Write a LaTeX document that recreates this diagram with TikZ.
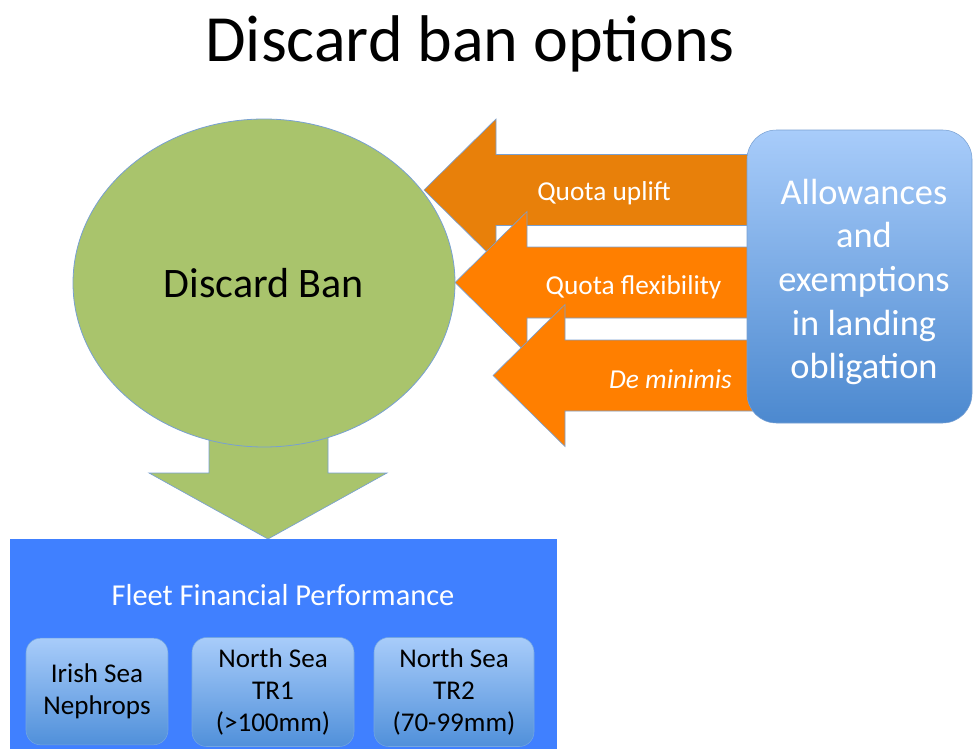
\documentclass[tikz,border=0pt]{standalone}
\usepackage{fontspec}
\setmainfont{Carlito}
\usepackage{tikz}
\usetikzlibrary{shapes.geometric}
\definecolor{bangreen}{RGB}{169,196,108}
\definecolor{edgeblue}{RGB}{120,160,210}
\definecolor{quotadark}{RGB}{232,128,10}
\definecolor{quotaorange}{RGB}{255,127,0}
\definecolor{fleetblue}{RGB}{64,128,255}
\definecolor{boxtop}{RGB}{168,204,250}
\definecolor{boxbottom}{RGB}{80,144,218}
\tikzset{
  larrow/.style = {draw=edgeblue, line width=0.5pt, line join=miter},
  qlabel/.style = {text=white, font=\fontsize{20.5}{24}\selectfont},
  fleetbox/.style = {draw=boxbottom!80, line width=0.4pt, rounded corners=11pt, top color=boxtop, bottom color=boxbottom, align=center, font=\fontsize{20.3}{24}\selectfont, inner sep=0pt},
}
\begin{document}
\begin{tikzpicture}[x=0.75pt, y=-0.75pt]
  \useasboundingbox (0,0) rectangle (974,749);
  \node[anchor=base] (title) at (470,62) {\fontsize{49.5}{56}\selectfont Discard ban options};
  % quota arrows, top one first
  \draw[larrow, fill=quotadark] (424,190) -- ++(72,-71) -- ++(0,35.5) -- ++(270,0) -- ++(0,71) -- ++(-270,0) -- ++(0,35.5) -- cycle;
  \draw[larrow, fill=quotaorange] (455,282.5) -- ++(72,-71) -- ++(0,35.5) -- ++(240,0) -- ++(0,71) -- ++(-240,0) -- ++(0,35.5) -- cycle;
  \draw[larrow, fill=quotaorange] (493,375.5) -- ++(72,-71) -- ++(0,35.5) -- ++(200,0) -- ++(0,71) -- ++(-200,0) -- ++(0,35.5) -- cycle;
  \node[qlabel] (uplift) at (604,193) {Quota uplift};
  \node[qlabel] (flex) at (633.5,287) {Quota flexibility};
  \node[qlabel] (demin) at (670.5,379) {\itshape De minimis};
  \node[draw=edgeblue, line width=0.4pt, rounded corners=22pt, top color=boxtop, bottom color=boxbottom!95!black,
        minimum width=168.75pt, minimum height=219.75pt] (allow) at (859.5,276.5) {};
  \node[align=center, text=white, font=\fontsize{27.3}{32.7}\selectfont] (allowtext) at (864,282)
        {Allowances\\and\\exemptions\\in landing\\obligation};
  % green arrow down to the fleet
  \draw[larrow, fill=bangreen] (209,420) -- (209,473) -- (149,473) -- (268,539) -- (387,473) -- (328,473) -- (328,420) -- cycle;
  \node[ellipse, draw=edgeblue, line width=0.6pt, fill=bangreen, minimum width=286.5pt, minimum height=246pt,
        font=\fontsize{31.5}{36}\selectfont] (ban) at (264,283) {Discard Ban};
  \fill[fleetblue] (10,539) rectangle (557,749);
  \node[text=white, font=\fontsize{22.8}{26}\selectfont] (fleet) at (283,595) {Fleet Financial Performance};
  \node[fleetbox, minimum width=106.5pt, minimum height=80pt] (irish) at (97,691.5) {Irish Sea\\Nephrops};
  \node[fleetbox, minimum width=121.5pt, minimum height=81.75pt] (trone) at (273,692) {North Sea\\TR1\\(>100mm)};
  \node[fleetbox, minimum width=120pt, minimum height=81.75pt] (trtwo) at (454,692) {North Sea\\TR2\\(70-99mm)};
\end{tikzpicture}
\end{document}
